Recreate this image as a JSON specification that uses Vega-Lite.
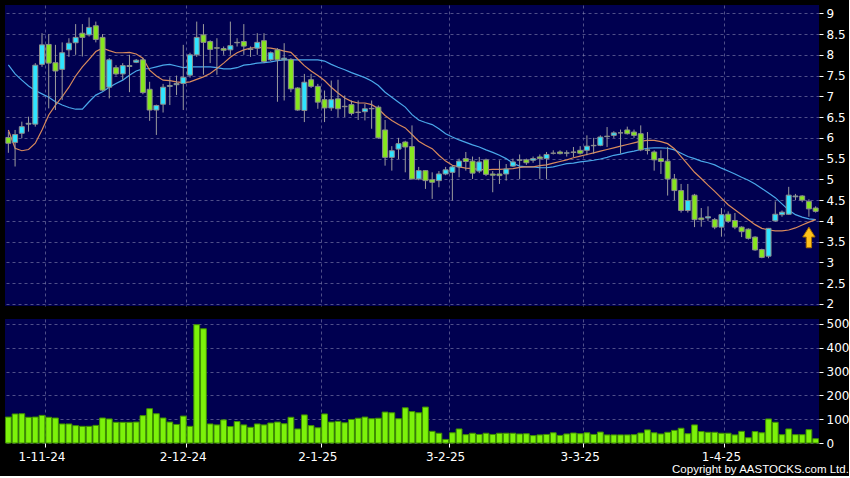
{
"$schema": "https://vega.github.io/schema/vega-lite/v6.json",
"background": "#000000",
"padding": {"left": 4, "top": 5, "right": 0, "bottom": 0},
"autosize": {"type": "pad"},
"spacing": 7,
"title": {"text": "Copyright by AASTOCKS.com Ltd.", "orient": "bottom", "anchor": "end", "frame": "bounds", "color": "#ffffff", "fontSize": 11.5, "fontWeight": "normal", "font": "Liberation Sans", "offset": 2},
"config": {
  "view": {"fill": "#000050", "stroke": null},
  "axis": {"gridColor": "#9090b8", "gridDash": [3, 3], "gridOpacity": 0.55, "gridWidth": 1, "labelColor": "#ffffff", "tickColor": "#ffffff", "domain": false, "labelFont": "DejaVu Sans", "labelFontSize": 12, "labelOverlap": false, "title": null}
},
"datasets": {"k": [
{"d":"25-10-24","o":6.01,"h":6.15,"l":5.64,"c":5.87,"v":109,"m1":6.19,"m2":7.76},
{"d":"28-10-24","o":5.89,"h":6.19,"l":5.31,"c":6.08,"v":122,"m1":5.75,"m2":7.54},
{"d":"29-10-24","o":6.11,"h":6.39,"l":5.99,"c":6.27,"v":123,"m1":5.69,"m2":7.39},
{"d":"30-10-24","o":6.33,"h":6.51,"l":6.15,"c":6.35,"v":108,"m1":5.72,"m2":7.25},
{"d":"31-10-24","o":6.33,"h":7.80,"l":6.27,"c":7.75,"v":109,"m1":5.87,"m2":7.14},
{"d":"1-11-24","o":7.77,"h":8.52,"l":7.71,"c":8.24,"v":116,"m1":6.19,"m2":7.06},
{"d":"4-11-24","o":8.25,"h":8.50,"l":6.71,"c":7.80,"v":108,"m1":6.55,"m2":6.98},
{"d":"5-11-24","o":7.81,"h":8.24,"l":6.67,"c":7.61,"v":105,"m1":6.79,"m2":6.87},
{"d":"6-11-24","o":7.65,"h":8.30,"l":6.91,"c":8.05,"v":80,"m1":6.99,"m2":6.79},
{"d":"7-11-24","o":8.12,"h":8.40,"l":7.95,"c":8.28,"v":80,"m1":7.22,"m2":6.73},
{"d":"8-11-24","o":8.29,"h":8.74,"l":8.00,"c":8.42,"v":73,"m1":7.49,"m2":6.69},
{"d":"11-11-24","o":8.52,"h":8.74,"l":7.96,"c":8.42,"v":70,"m1":7.71,"m2":6.69},
{"d":"12-11-24","o":8.48,"h":8.90,"l":8.44,"c":8.66,"v":70,"m1":7.89,"m2":6.87},
{"d":"13-11-24","o":8.70,"h":8.80,"l":8.30,"c":8.37,"v":74,"m1":8.08,"m2":7.03},
{"d":"14-11-24","o":8.42,"h":8.50,"l":7.13,"c":7.15,"v":105,"m1":8.16,"m2":7.11},
{"d":"15-11-24","o":7.22,"h":7.92,"l":6.95,"c":7.88,"v":101,"m1":8.10,"m2":7.22},
{"d":"18-11-24","o":7.69,"h":7.75,"l":7.50,"c":7.54,"v":87,"m1":8.05,"m2":7.31},
{"d":"19-11-24","o":7.54,"h":7.80,"l":7.40,"c":7.74,"v":87,"m1":8.05,"m2":7.39},
{"d":"20-11-24","o":7.72,"h":8.00,"l":7.10,"c":7.74,"v":87,"m1":8.06,"m2":7.51},
{"d":"21-11-24","o":7.82,"h":7.90,"l":7.80,"c":7.87,"v":88,"m1":8.02,"m2":7.61},
{"d":"22-11-24","o":7.88,"h":7.92,"l":7.05,"c":7.09,"v":115,"m1":7.92,"m2":7.66},
{"d":"25-11-24","o":7.17,"h":7.35,"l":6.41,"c":6.67,"v":144,"m1":7.63,"m2":7.67},
{"d":"26-11-24","o":6.67,"h":6.80,"l":6.07,"c":6.78,"v":123,"m1":7.49,"m2":7.71},
{"d":"27-11-24","o":6.81,"h":7.30,"l":6.61,"c":7.22,"v":105,"m1":7.39,"m2":7.75},
{"d":"28-11-24","o":7.24,"h":7.46,"l":6.79,"c":7.26,"v":88,"m1":7.38,"m2":7.77},
{"d":"29-11-24","o":7.28,"h":7.50,"l":7.03,"c":7.31,"v":78,"m1":7.35,"m2":7.73},
{"d":"2-12-24","o":7.31,"h":8.24,"l":6.67,"c":7.46,"v":113,"m1":7.33,"m2":7.69},
{"d":"3-12-24","o":7.51,"h":8.05,"l":7.45,"c":8.00,"v":70,"m1":7.35,"m2":7.71},
{"d":"4-12-24","o":8.00,"h":8.80,"l":7.95,"c":8.42,"v":497,"m1":7.41,"m2":7.71},
{"d":"5-12-24","o":8.48,"h":8.74,"l":7.52,"c":8.30,"v":480,"m1":7.47,"m2":7.71},
{"d":"6-12-24","o":8.32,"h":8.35,"l":7.80,"c":8.13,"v":80,"m1":7.55,"m2":7.71},
{"d":"9-12-24","o":8.17,"h":8.40,"l":7.52,"c":8.16,"v":76,"m1":7.67,"m2":7.69},
{"d":"10-12-24","o":8.15,"h":8.20,"l":8.00,"c":8.11,"v":97,"m1":7.80,"m2":7.66},
{"d":"11-12-24","o":8.12,"h":8.80,"l":8.00,"c":8.22,"v":69,"m1":7.94,"m2":7.66},
{"d":"12-12-24","o":8.29,"h":8.40,"l":8.20,"c":8.30,"v":90,"m1":8.05,"m2":7.69},
{"d":"13-12-24","o":8.32,"h":8.74,"l":8.00,"c":8.21,"v":76,"m1":8.12,"m2":7.75},
{"d":"16-12-24","o":8.14,"h":8.20,"l":7.95,"c":8.13,"v":66,"m1":8.16,"m2":7.77},
{"d":"17-12-24","o":8.16,"h":8.52,"l":8.00,"c":8.30,"v":80,"m1":8.18,"m2":7.80},
{"d":"18-12-24","o":8.34,"h":8.52,"l":7.80,"c":7.84,"v":76,"m1":8.17,"m2":7.81},
{"d":"19-12-24","o":7.88,"h":8.08,"l":7.85,"c":8.05,"v":84,"m1":8.16,"m2":7.83},
{"d":"20-12-24","o":8.12,"h":8.16,"l":6.87,"c":7.88,"v":88,"m1":8.13,"m2":7.86},
{"d":"23-12-24","o":7.88,"h":8.28,"l":6.90,"c":7.92,"v":81,"m1":8.09,"m2":7.88},
{"d":"24-12-24","o":7.89,"h":7.92,"l":7.10,"c":7.18,"v":108,"m1":8.06,"m2":7.88},
{"d":"27-12-24","o":7.20,"h":7.22,"l":6.65,"c":6.67,"v":59,"m1":7.90,"m2":7.88},
{"d":"30-12-24","o":6.66,"h":7.54,"l":6.38,"c":7.34,"v":118,"m1":7.74,"m2":7.88},
{"d":"31-12-24","o":7.40,"h":7.54,"l":7.20,"c":7.24,"v":73,"m1":7.61,"m2":7.88},
{"d":"2-1-25","o":7.24,"h":7.30,"l":6.70,"c":6.86,"v":64,"m1":7.50,"m2":7.88},
{"d":"3-1-25","o":6.92,"h":7.14,"l":6.38,"c":6.72,"v":122,"m1":7.38,"m2":7.85},
{"d":"6-1-25","o":6.72,"h":7.38,"l":6.65,"c":6.92,"v":88,"m1":7.22,"m2":7.77},
{"d":"7-1-25","o":6.94,"h":7.40,"l":6.50,"c":6.70,"v":91,"m1":7.08,"m2":7.70},
{"d":"8-1-25","o":6.76,"h":7.02,"l":6.50,"c":6.75,"v":85,"m1":6.96,"m2":7.64},
{"d":"9-1-25","o":6.80,"h":6.90,"l":6.54,"c":6.59,"v":99,"m1":6.88,"m2":7.57},
{"d":"10-1-25","o":6.62,"h":6.90,"l":6.43,"c":6.61,"v":104,"m1":6.84,"m2":7.51},
{"d":"13-1-25","o":6.63,"h":6.82,"l":6.42,"c":6.70,"v":109,"m1":6.84,"m2":7.45},
{"d":"14-1-25","o":6.70,"h":6.90,"l":6.22,"c":6.71,"v":102,"m1":6.80,"m2":7.37},
{"d":"15-1-25","o":6.74,"h":6.78,"l":5.98,"c":6.00,"v":104,"m1":6.70,"m2":7.26},
{"d":"16-1-25","o":6.19,"h":6.43,"l":5.33,"c":5.53,"v":130,"m1":6.54,"m2":7.10},
{"d":"17-1-25","o":5.53,"h":5.80,"l":5.21,"c":5.69,"v":127,"m1":6.42,"m2":6.98},
{"d":"20-1-25","o":5.73,"h":6.00,"l":5.49,"c":5.86,"v":102,"m1":6.32,"m2":6.86},
{"d":"21-1-25","o":5.90,"h":5.93,"l":5.17,"c":5.78,"v":148,"m1":6.24,"m2":6.74},
{"d":"22-1-25","o":5.79,"h":6.30,"l":5.00,"c":5.01,"v":132,"m1":6.08,"m2":6.56},
{"d":"23-1-25","o":5.01,"h":5.30,"l":4.98,"c":5.21,"v":127,"m1":5.92,"m2":6.43},
{"d":"24-1-25","o":5.21,"h":5.22,"l":4.77,"c":4.97,"v":151,"m1":5.82,"m2":6.37},
{"d":"27-1-25","o":4.99,"h":5.17,"l":4.53,"c":4.93,"v":49,"m1":5.74,"m2":6.32},
{"d":"28-1-25","o":4.97,"h":5.20,"l":4.81,"c":5.13,"v":41,"m1":5.58,"m2":6.22},
{"d":"3-2-25","o":5.13,"h":5.30,"l":5.10,"c":5.23,"v":15,"m1":5.44,"m2":6.10},
{"d":"4-2-25","o":5.17,"h":5.34,"l":4.49,"c":5.30,"v":43,"m1":5.34,"m2":6.02},
{"d":"5-2-25","o":5.30,"h":5.50,"l":5.05,"c":5.44,"v":59,"m1":5.30,"m2":5.95},
{"d":"6-2-25","o":5.50,"h":5.66,"l":5.21,"c":5.43,"v":35,"m1":5.27,"m2":5.89},
{"d":"7-2-25","o":5.44,"h":5.55,"l":5.01,"c":5.15,"v":41,"m1":5.26,"m2":5.83},
{"d":"10-2-25","o":5.20,"h":5.54,"l":5.15,"c":5.42,"v":36,"m1":5.24,"m2":5.78},
{"d":"11-2-25","o":5.47,"h":5.50,"l":5.08,"c":5.12,"v":41,"m1":5.23,"m2":5.71},
{"d":"12-2-25","o":5.13,"h":5.20,"l":4.69,"c":5.10,"v":36,"m1":5.24,"m2":5.65},
{"d":"13-2-25","o":5.13,"h":5.46,"l":4.89,"c":5.09,"v":41,"m1":5.24,"m2":5.58},
{"d":"14-2-25","o":5.13,"h":5.37,"l":4.97,"c":5.25,"v":41,"m1":5.25,"m2":5.50},
{"d":"17-2-25","o":5.32,"h":5.50,"l":5.30,"c":5.42,"v":41,"m1":5.26,"m2":5.39},
{"d":"18-2-25","o":5.46,"h":5.60,"l":5.01,"c":5.47,"v":38,"m1":5.29,"m2":5.32},
{"d":"19-2-25","o":5.47,"h":5.50,"l":5.35,"c":5.40,"v":39,"m1":5.30,"m2":5.30},
{"d":"20-2-25","o":5.46,"h":5.55,"l":5.40,"c":5.50,"v":31,"m1":5.30,"m2":5.30},
{"d":"21-2-25","o":5.54,"h":5.60,"l":5.01,"c":5.50,"v":34,"m1":5.33,"m2":5.28},
{"d":"24-2-25","o":5.50,"h":5.66,"l":5.01,"c":5.60,"v":36,"m1":5.35,"m2":5.28},
{"d":"25-2-25","o":5.63,"h":5.70,"l":5.60,"c":5.63,"v":43,"m1":5.39,"m2":5.30},
{"d":"26-2-25","o":5.66,"h":5.70,"l":5.60,"c":5.62,"v":32,"m1":5.43,"m2":5.34},
{"d":"27-2-25","o":5.63,"h":5.70,"l":5.55,"c":5.64,"v":38,"m1":5.47,"m2":5.38},
{"d":"28-2-25","o":5.65,"h":5.78,"l":5.54,"c":5.66,"v":42,"m1":5.52,"m2":5.39},
{"d":"3-3-25","o":5.70,"h":5.80,"l":5.60,"c":5.63,"v":39,"m1":5.56,"m2":5.42},
{"d":"4-3-25","o":5.70,"h":6.06,"l":5.58,"c":5.80,"v":43,"m1":5.60,"m2":5.44},
{"d":"5-3-25","o":5.81,"h":6.00,"l":5.62,"c":5.82,"v":36,"m1":5.64,"m2":5.46},
{"d":"6-3-25","o":5.82,"h":6.06,"l":5.80,"c":6.02,"v":46,"m1":5.68,"m2":5.49},
{"d":"7-3-25","o":6.03,"h":6.26,"l":5.78,"c":6.04,"v":34,"m1":5.72,"m2":5.53},
{"d":"10-3-25","o":6.06,"h":6.16,"l":6.00,"c":6.12,"v":34,"m1":5.76,"m2":5.58},
{"d":"11-3-25","o":6.12,"h":6.20,"l":5.62,"c":6.12,"v":34,"m1":5.80,"m2":5.61},
{"d":"12-3-25","o":6.19,"h":6.27,"l":6.08,"c":6.10,"v":34,"m1":5.84,"m2":5.65},
{"d":"13-3-25","o":6.14,"h":6.20,"l":6.00,"c":6.06,"v":35,"m1":5.88,"m2":5.68},
{"d":"14-3-25","o":6.10,"h":6.30,"l":5.68,"c":5.71,"v":42,"m1":5.92,"m2":5.72},
{"d":"17-3-25","o":5.71,"h":6.14,"l":5.60,"c":5.70,"v":55,"m1":5.94,"m2":5.75},
{"d":"18-3-25","o":5.66,"h":5.70,"l":5.21,"c":5.47,"v":43,"m1":5.94,"m2":5.76},
{"d":"19-3-25","o":5.50,"h":5.70,"l":5.13,"c":5.43,"v":38,"m1":5.91,"m2":5.76},
{"d":"20-3-25","o":5.44,"h":5.78,"l":4.61,"c":5.01,"v":45,"m1":5.86,"m2":5.75},
{"d":"21-3-25","o":5.01,"h":5.13,"l":4.50,"c":4.73,"v":53,"m1":5.74,"m2":5.71},
{"d":"24-3-25","o":4.73,"h":4.89,"l":4.20,"c":4.25,"v":62,"m1":5.55,"m2":5.63},
{"d":"25-3-25","o":4.25,"h":4.89,"l":4.20,"c":4.49,"v":39,"m1":5.36,"m2":5.55},
{"d":"26-3-25","o":4.62,"h":4.65,"l":3.85,"c":4.03,"v":76,"m1":5.17,"m2":5.50},
{"d":"27-3-25","o":4.07,"h":4.31,"l":3.86,"c":4.03,"v":48,"m1":5.02,"m2":5.44},
{"d":"28-3-25","o":4.07,"h":4.35,"l":4.00,"c":4.10,"v":45,"m1":4.86,"m2":5.40},
{"d":"31-3-25","o":4.03,"h":4.07,"l":3.80,"c":3.85,"v":45,"m1":4.71,"m2":5.35},
{"d":"1-4-25","o":3.85,"h":4.31,"l":3.62,"c":4.15,"v":41,"m1":4.55,"m2":5.27},
{"d":"2-4-25","o":4.16,"h":4.23,"l":3.95,"c":3.99,"v":41,"m1":4.39,"m2":5.20},
{"d":"3-4-25","o":4.01,"h":4.19,"l":3.80,"c":3.85,"v":34,"m1":4.27,"m2":5.13},
{"d":"7-4-25","o":3.85,"h":3.87,"l":3.61,"c":3.74,"v":49,"m1":4.15,"m2":5.05},
{"d":"8-4-25","o":3.80,"h":3.82,"l":3.55,"c":3.58,"v":22,"m1":4.03,"m2":4.98},
{"d":"9-4-25","o":3.61,"h":3.63,"l":3.28,"c":3.30,"v":48,"m1":3.91,"m2":4.89},
{"d":"10-4-25","o":3.31,"h":3.33,"l":3.10,"c":3.12,"v":43,"m1":3.82,"m2":4.78},
{"d":"11-4-25","o":3.15,"h":3.83,"l":3.10,"c":3.82,"v":101,"m1":3.78,"m2":4.67},
{"d":"14-4-25","o":4.00,"h":4.47,"l":3.98,"c":4.16,"v":87,"m1":3.76,"m2":4.56},
{"d":"15-4-25","o":4.15,"h":4.25,"l":4.10,"c":4.21,"v":35,"m1":3.76,"m2":4.41},
{"d":"16-4-25","o":4.16,"h":4.82,"l":4.15,"c":4.62,"v":59,"m1":3.78,"m2":4.26},
{"d":"17-4-25","o":4.58,"h":4.65,"l":4.50,"c":4.60,"v":35,"m1":3.83,"m2":4.15},
{"d":"22-4-25","o":4.60,"h":4.62,"l":4.45,"c":4.50,"v":35,"m1":3.90,"m2":4.09},
{"d":"23-4-25","o":4.47,"h":4.52,"l":4.10,"c":4.29,"v":56,"m1":3.97,"m2":4.05},
{"d":"24-4-25","o":4.31,"h":4.35,"l":4.20,"c":4.23,"v":18,"m1":4.03,"m2":4.03}
]},
"vconcat": [
  {
    "width": 814,
    "height": 301,
    "data": {"name": "k"},
    "encoding": {
      "x": {"field": "d", "type": "ordinal", "sort": null,
            "scale": {"type": "band", "paddingInner": 0, "paddingOuter": 0},
            "axis": {"values": ["1-11-24","2-12-24","2-1-25","3-2-25","3-3-25","1-4-25"], "labels": false, "ticks": false, "grid": true, "bandPosition": 1}}
    },
    "layer": [
      {"mark": {"type": "line", "color": "#4aa8ea", "strokeWidth": 1.2},
       "encoding": {"y": {"field": "m2", "type": "quantitative", "scale": {"domain": [1.95, 9.2], "nice": false, "zero": false},
         "axis": {"orient": "right", "values": [2,2.5,3,3.5,4,4.5,5,5.5,6,6.5,7,7.5,8,8.5,9], "format": ".2~f", "tickSize": 4, "labelPadding": 3, "grid": true, "labelFontSize": 12, "labelOverlap": false}}}},
      {"mark": {"type": "line", "color": "#d98a5c", "strokeWidth": 1.2},
       "encoding": {"y": {"field": "m1", "type": "quantitative", "scale": {"domain": [1.95, 9.2], "nice": false, "zero": false},
         "axis": {"orient": "right", "values": [2,2.5,3,3.5,4,4.5,5,5.5,6,6.5,7,7.5,8,8.5,9], "format": ".2~f", "tickSize": 4, "labelPadding": 3, "grid": true, "labelFontSize": 12, "labelOverlap": false}}}},
      {"mark": {"type": "rule", "color": "#9c9c9c", "strokeWidth": 1},
       "encoding": {"y": {"field": "l", "type": "quantitative", "scale": {"domain": [1.95, 9.2], "nice": false, "zero": false},
         "axis": {"orient": "right", "values": [2,2.5,3,3.5,4,4.5,5,5.5,6,6.5,7,7.5,8,8.5,9], "format": ".2~f", "tickSize": 4, "labelPadding": 3, "grid": true, "labelFontSize": 12, "labelOverlap": false}}, "y2": {"field": "h"}}},
      {"mark": {"type": "bar", "stroke": "#8c8c8c", "strokeWidth": 1, "width": {"band": 0.74}},
       "encoding": {"y": {"field": "o", "type": "quantitative", "scale": {"domain": [1.95, 9.2], "nice": false, "zero": false},
         "axis": {"orient": "right", "values": [2,2.5,3,3.5,4,4.5,5,5.5,6,6.5,7,7.5,8,8.5,9], "format": ".2~f", "tickSize": 4, "labelPadding": 3, "grid": true, "labelFontSize": 12, "labelOverlap": false}}, "y2": {"field": "c"},
         "fill": {"condition": {"test": "datum.c >= datum.o", "value": "#2fe4ff"}, "value": "#86e61e"}}},
      {"transform": [{"filter": "datum.d == '23-4-25'"}],
       "mark": {"type": "point", "shape": "M0,-1L0.6,-0.05L0.26,-0.05L0.26,1L-0.26,1L-0.26,-0.05L-0.6,-0.05Z", "filled": true, "fill": "#ffc21a", "stroke": "#a86f00", "strokeWidth": 1, "size": 420, "opacity": 1},
       "encoding": {"y": {"datum": 3.6, "type": "quantitative", "scale": {"domain": [1.95, 9.2], "nice": false, "zero": false},
         "axis": {"orient": "right", "values": [2,2.5,3,3.5,4,4.5,5,5.5,6,6.5,7,7.5,8,8.5,9], "format": ".2~f", "tickSize": 4, "labelPadding": 3, "grid": true, "labelFontSize": 12, "labelOverlap": false}}}}
    ]
  },
  {
    "width": 814,
    "height": 124,
    "data": {"name": "k"},
    "mark": {"type": "bar", "fill": "#7cf20a", "stroke": "#3f8f00", "strokeWidth": 1, "width": {"band": 0.86}},
    "encoding": {
      "x": {"field": "d", "type": "ordinal", "sort": null,
            "scale": {"type": "band", "paddingInner": 0, "paddingOuter": 0},
            "axis": {"values": ["1-11-24","2-12-24","2-1-25","3-2-25","3-3-25","1-4-25"], "labels": true, "ticks": true, "tickSize": 4, "labelPadding": 4, "grid": true, "bandPosition": 1, "labelAngle": 0, "labelFontSize": 12}},
      "y": {"field": "v", "type": "quantitative", "scale": {"domain": [0, 521], "nice": false},
            "axis": {"orient": "right", "values": [0,100,200,300,400,500], "format": "d", "tickSize": 4, "labelPadding": 3, "grid": true, "labelFontSize": 12}}
    }
  }
]
}
